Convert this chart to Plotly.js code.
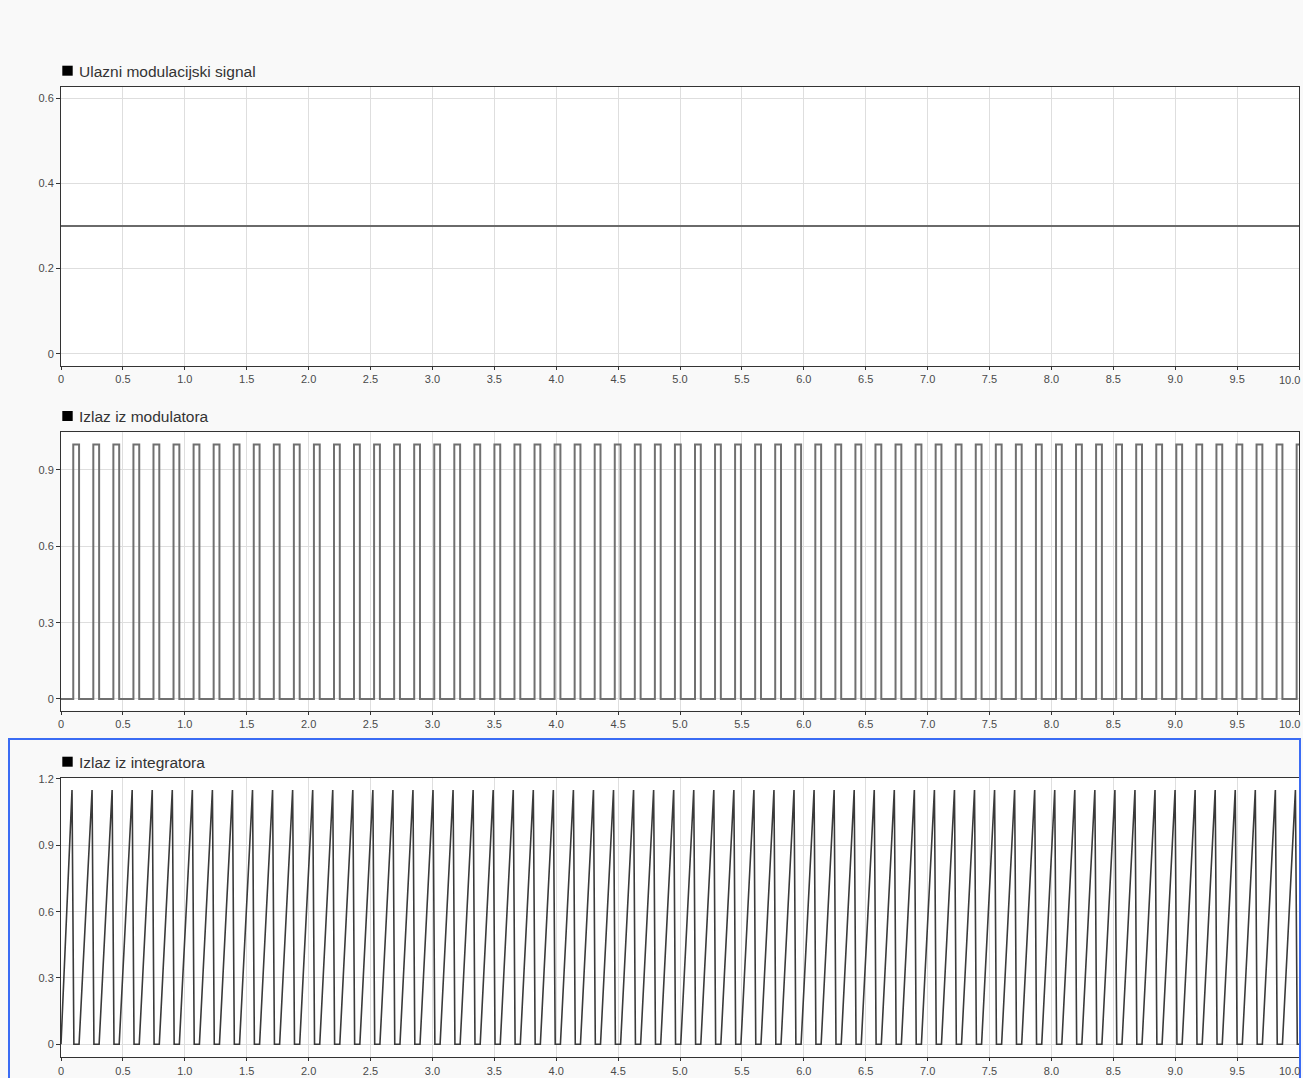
<!DOCTYPE html>
<html>
<head>
<meta charset="utf-8">
<script src="https://cdn.plot.ly/plotly-3.0.1.min.js"></script>
<style>
  html, body { margin: 0; padding: 0; background: #f9f9f9; }
  #chart { width: 1303px; height: 1078px; }
</style>
</head>
<body>
<div id="chart"></div>
<script>
// ---------------- DATA ----------------
const panelTitles = ['Ulazni modulacijski signal', 'Izlaz iz modulatora', 'Izlaz iz integratora'];

// Input modulation signal (constant)
const inputTime = [0, 10];
const inputValue = [0.3, 0.3];

// Modulator output: rising and falling edge times (s)
const modRise = [0.099, 0.261, 0.423, 0.585, 0.747, 0.909, 1.071, 1.233, 1.395, 1.557,
  1.719, 1.881, 2.043, 2.205, 2.367, 2.529, 2.691, 2.853, 3.015, 3.177,
  3.339, 3.501, 3.663, 3.825, 3.987, 4.149, 4.311, 4.473, 4.635, 4.797,
  4.959, 5.121, 5.283, 5.445, 5.607, 5.769, 5.931, 6.093, 6.255, 6.417,
  6.579, 6.741, 6.903, 7.065, 7.227, 7.389, 7.551, 7.713, 7.875, 8.037,
  8.199, 8.361, 8.523, 8.685, 8.847, 9.009, 9.171, 9.333, 9.495, 9.657,
  9.819, 9.981];
const modFall = [0.146, 0.308, 0.470, 0.632, 0.794, 0.956, 1.118, 1.280, 1.442, 1.604,
  1.766, 1.928, 2.090, 2.252, 2.414, 2.576, 2.738, 2.900, 3.062, 3.224,
  3.386, 3.548, 3.710, 3.872, 4.034, 4.196, 4.358, 4.520, 4.682, 4.844,
  5.006, 5.168, 5.330, 5.492, 5.654, 5.816, 5.978, 6.140, 6.302, 6.464,
  6.626, 6.788, 6.950, 7.112, 7.274, 7.436, 7.598, 7.760, 7.922, 8.084,
  8.246, 8.408, 8.570, 8.732, 8.894, 9.056, 9.218, 9.380, 9.542, 9.704,
  9.866, 10.028];
const modHigh = 1;
const modLow = 0;

// Integrator output: peak value, reached just before each modulator rising edge
const intPeak = 1.15;
const intPeakLead = 0.01;   // peak occurs this long before the rising edge
const intResetLag = 0.005;  // back at zero this long after the rising edge

// Tick labels (the last x label "10.0" is placed separately, flush right)
const xTickVals = [0, 0.5, 1, 1.5, 2, 2.5, 3, 3.5, 4, 4.5, 5, 5.5, 6, 6.5, 7, 7.5, 8, 8.5, 9, 9.5, 10];
const xTickText = ['0', '0.5', '1.0', '1.5', '2.0', '2.5', '3.0', '3.5', '4.0', '4.5', '5.0',
  '5.5', '6.0', '6.5', '7.0', '7.5', '8.0', '8.5', '9.0', '9.5', ''];
const xLastTickText = '10.0';
const y1TickVals = [0, 0.2, 0.4, 0.6];
const y1TickText = ['0', '0.2', '0.4', '0.6'];
const y2TickVals = [0, 0.3, 0.6, 0.9];
const y2TickText = ['0', '0.3', '0.6', '0.9'];
const y3TickVals = [0, 0.3, 0.6, 0.9, 1.2];
const y3TickText = ['0', '0.3', '0.6', '0.9', '1.2'];

// ---------------- BUILD TRACES ----------------
const modX = [0], modY = [modLow];
for (let k = 0; k < modRise.length; k++) {
  modX.push(modRise[k], modRise[k], modFall[k], modFall[k]);
  modY.push(modLow, modHigh, modHigh, modLow);
}

const intX = [0], intY = [0];
for (let k = 0; k < modRise.length; k++) {
  intX.push(modRise[k] - intPeakLead, modRise[k] + intResetLag, modFall[k]);
  intY.push(intPeak, 0, 0);
}

// ---------------- LAYOUT ----------------
const W = 1303, H = 1078, L = 61, R = 4;
const plotW = W - L - R;
const px2x = p => (p - L) / plotW;
const px2y = p => 1 - p / H;

const font = 'Liberation Sans, Arial, Helvetica, sans-serif';
const gridC = '#dedede';
const lineC = '#333333';
const tickFont = { family: font, size: 11, color: '#4a4a4a' };

function xAxis(anchor) {
  return {
    anchor: anchor, range: [0, 10], domain: [0, 1],
    tickmode: 'array', tickvals: xTickVals, ticktext: xTickText,
    ticks: 'outside', ticklen: 3, tickwidth: 1, tickcolor: lineC,
    showgrid: true, gridcolor: gridC, gridwidth: 1, zeroline: false,
    showline: true, linecolor: lineC, linewidth: 1, mirror: true,
    tickfont: tickFont, fixedrange: true
  };
}
function yAxis(anchor, domTop, domBot, range, vals, text) {
  return {
    anchor: anchor, domain: [px2y(domBot), px2y(domTop)], range: range,
    tickmode: 'array', tickvals: vals, ticktext: text,
    ticks: 'outside', ticklen: 4, tickwidth: 1, tickcolor: lineC,
    showgrid: true, gridcolor: gridC, gridwidth: 1, zeroline: false,
    showline: true, linecolor: lineC, linewidth: 1, mirror: true,
    tickfont: tickFont, fixedrange: true
  };
}

const panels = [
  { top: 87, bot: 366 },
  { top: 432.3, bot: 710.7 },
  { top: 778, bot: 1057.3 }
];

const traces = [
  { x: inputTime, y: inputValue, xaxis: 'x', yaxis: 'y', mode: 'lines',
    line: { color: '#6a6a6a', width: 2 }, hoverinfo: 'skip', showlegend: false },
  { x: modX, y: modY, xaxis: 'x2', yaxis: 'y2', mode: 'lines',
    line: { color: '#707070', width: 2 }, hoverinfo: 'skip', showlegend: false },
  { x: intX, y: intY, xaxis: 'x3', yaxis: 'y3', mode: 'lines',
    line: { color: '#3a3a3a', width: 1.6 }, hoverinfo: 'skip', showlegend: false }
];

const shapes = [];
const annotations = [];
panels.forEach((p, i) => {
  const cy = p.top - 16.3;
  shapes.push({
    type: 'rect', xref: 'paper', yref: 'paper', layer: 'above',
    x0: px2x(62.3), x1: px2x(72.7), y0: px2y(cy + 5), y1: px2y(cy - 5),
    fillcolor: '#000000', line: { width: 0 }
  });
  annotations.push({
    xref: 'paper', yref: 'paper', x: px2x(77.2), y: px2y(cy + 0.5),
    xanchor: 'left', yanchor: 'middle', showarrow: false,
    text: panelTitles[i], font: { family: font, size: 15.5, color: '#333333' }
  });
  // flush-right last x tick label
  annotations.push({
    xref: 'paper', yref: 'paper', x: px2x(1302), y: px2y(p.bot + 13.5),
    xanchor: 'right', yanchor: 'middle', showarrow: false,
    text: xLastTickText, font: tickFont
  });
});
// selection frame around the third panel
shapes.push({
  type: 'rect', xref: 'paper', yref: 'paper', layer: 'above',
  x0: px2x(9), x1: px2x(1300), y0: px2y(1085), y1: px2y(739),
  line: { color: '#3b6cf4', width: 2 }, fillcolor: 'rgba(0,0,0,0)'
});

const layout = {
  width: W, height: H,
  margin: { l: L, r: R, t: 0, b: 0, pad: 0 },
  paper_bgcolor: '#f9f9f9', plot_bgcolor: '#ffffff',
  font: { family: font, color: '#333' },
  showlegend: false,
  xaxis: xAxis('y'),
  xaxis2: xAxis('y2'),
  xaxis3: xAxis('y3'),
  yaxis: yAxis('x', panels[0].top, panels[0].bot, [-0.029, 0.627], y1TickVals, y1TickText),
  yaxis2: yAxis('x2', panels[1].top, panels[1].bot, [-0.046, 1.048], y2TickVals, y2TickText),
  yaxis3: yAxis('x3', panels[2].top, panels[2].bot, [-0.0588, 1.2045], y3TickVals, y3TickText),
  shapes: shapes,
  annotations: annotations
};

Plotly.newPlot('chart', traces, layout, { displayModeBar: false, staticPlot: true });
</script>
</body>
</html>
